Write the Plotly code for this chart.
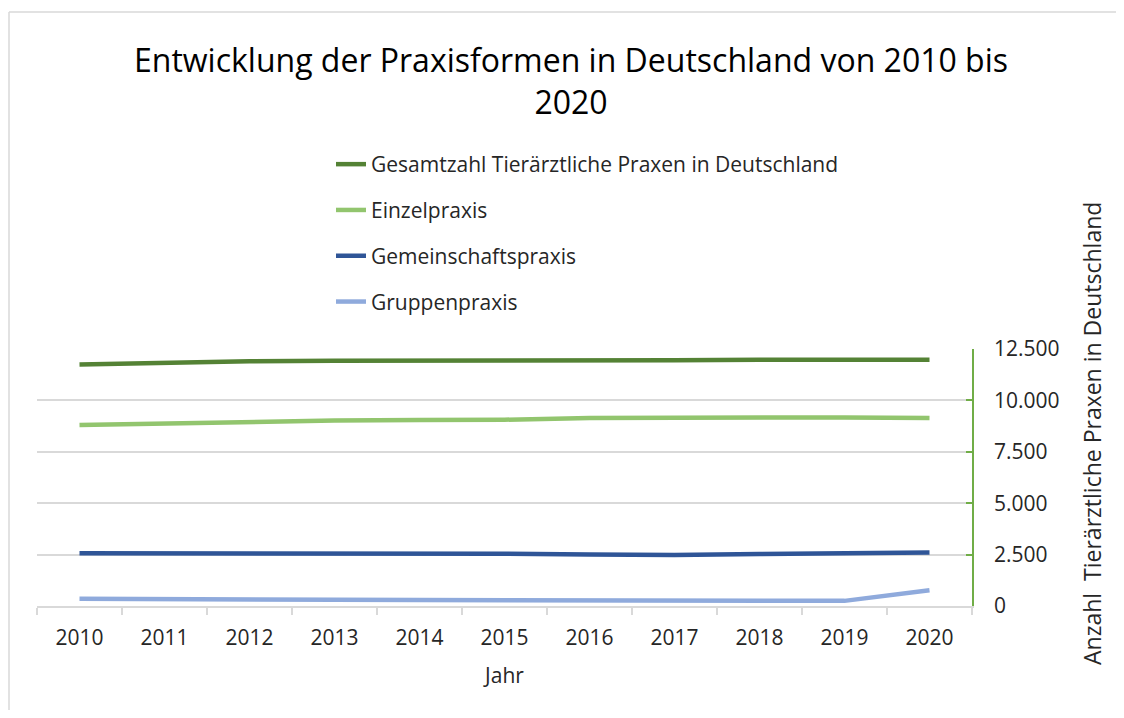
import plotly.graph_objects as go

years = ["2010", "2011", "2012", "2013", "2014", "2015", "2016", "2017", "2018", "2019", "2020"]
gesamt = [11750, 11830, 11900, 11930, 11930, 11920, 11950, 11950, 11980, 11990, 11980]
einzel = [8800, 8880, 8970, 9020, 9050, 9060, 9150, 9170, 9160, 9170, 9140]
gemeinschaft = [2570, 2570, 2580, 2590, 2550, 2540, 2500, 2480, 2530, 2560, 2600]
gruppen = [350, 320, 300, 300, 290, 290, 280, 275, 265, 250, 770]

series_names = [
    "Gesamtzahl Tierärztliche Praxen in Deutschland",
    "Einzelpraxis",
    "Gemeinschaftspraxis",
    "Gruppenpraxis",
]
series_values = [gesamt, einzel, gemeinschaft, gruppen]
colors = ["#548235", "#92C56E", "#2F5597", "#8FAADC"]

FONT = "Open Sans"
OFF = 8  # page body margin
W, H = 1108, 702
L, R, T, B = 37 - OFF, 1108 - (972 - OFF), 349 - OFF, 702 - (606 - OFF)
PW = W - L - R
PH = H - T - B

fig = go.Figure()
for i, (name, vals, col) in enumerate(zip(series_names, series_values, colors)):
    fig.add_trace(go.Scatter(
        x=years, y=vals, name=name, mode="lines",
        line=dict(color=col, width=4.5),
        legendgroup=f"g{i}",
    ))

def px_x(px):
    return (px - OFF - L) / PW

def px_y(py):
    return (H - B - (py - OFF)) / PH

fig.update_layout(
    width=W, height=H,
    margin=dict(l=L, r=R, t=T, b=B),
    paper_bgcolor="white", plot_bgcolor="white",
    font=dict(family=FONT, color="#262626"),
    separators=",.",
    title=dict(
        text="Entwicklung der Praxisformen in Deutschland von 2010 bis<br>2020",
        x=(571 - OFF) / W, xref="container", xanchor="center",
        y=1 - (72 - OFF) / H, yref="container", yanchor="middle",
        font=dict(size=32, family=FONT, color="#000000"),
    ),
    legend=dict(
        x=px_x(331), xanchor="left",
        y=px_y(144), yanchor="top",
        font=dict(size=21, family=FONT, color="#262626"),
        tracegroupgap=15.5,
        bgcolor="rgba(0,0,0,0)",
        itemwidth=30,
    ),
    showlegend=True,
    xaxis=dict(
        type="category",
        range=[-0.5, 10.5],
        tickson="boundaries",
        ticks="outside", ticklen=7, tickcolor="#d9d9d9", tickwidth=1.5,
        showline=True, linecolor="#d9d9d9", linewidth=1.5,
        showgrid=False,
        ticklabelstandoff=12,
        tickfont=dict(size=21, family=FONT, color="#262626"),
        title=dict(text="Jahr", font=dict(size=21, family=FONT, color="#262626"), standoff=18),
    ),
    yaxis=dict(
        side="right",
        range=[0, 12500],
        tickvals=[0, 2500, 5000, 7500, 10000, 12500],
        tickformat=",d",
        ticks="inside", ticklen=6, tickcolor="#70AD47", tickwidth=1.5,
        showline=True, linecolor="#70AD47", linewidth=1.5,
        showgrid=True, gridcolor="#d9d9d9", gridwidth=1.5,
        zeroline=False,
        ticklabelstandoff=16,
        tickfont=dict(size=21, family=FONT, color="#262626"),
    ),
    shapes=[
        dict(type="line", xref="paper", yref="paper",
             x0=px_x(9), x1=px_x(1140), y0=px_y(12), y1=px_y(12),
             line=dict(color="#d9d9d9", width=1.5)),
        dict(type="line", xref="paper", yref="paper",
             x0=px_x(9), x1=px_x(9), y0=px_y(12), y1=px_y(740),
             line=dict(color="#d9d9d9", width=1.5)),
    ],
    annotations=[
        dict(text="Anzahl  Tierärztliche Praxen in Deutschland",
             xref="paper", yref="paper", x=px_x(1092), y=px_y(434),
             xanchor="center", yanchor="middle", textangle=-90, showarrow=False,
             font=dict(size=23, family=FONT, color="#262626")),
    ],
)

fig.write_html("out.html")
